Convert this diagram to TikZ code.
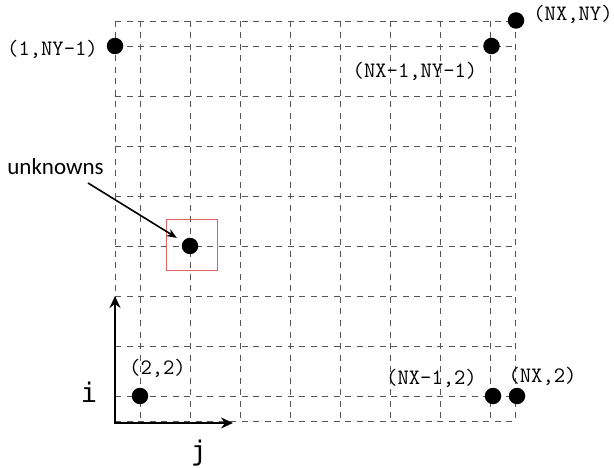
\documentclass[tikz,border=0pt]{standalone}
\usepackage{fontspec}
\newfontfamily\menlofont{DejaVu Sans Mono}
\newfontfamily\calfont{Carlito}
\usetikzlibrary{arrows.meta}
\definecolor{gridgray}{HTML}{555555}
\definecolor{boxred}{HTML}{E06464}
\tikzset{
  gridline/.style={draw=gridgray, line width=0.9pt, dash pattern=on 6pt off 5.5pt},
  dot/.style={circle, fill=black, inner sep=0pt, minimum size=16.5pt},
  coordlabel/.style={anchor=base, inner sep=0pt, font=\ttfamily\fontsize{22}{22}\selectfont},
  axislabel/.style={anchor=base, inner sep=0pt, font=\menlofont\fontsize{27}{27}\selectfont},
  axis/.style={line width=2.8pt, -{Stealth[length=12pt,width=11pt,inset=4pt]}},
  pointer/.style={line width=1.6pt, -{Stealth[length=10pt,width=8pt,inset=3pt]}, shorten >=7pt},
  redbox/.style={draw=boxred, line width=1pt},
}
\begin{document}
\begin{tikzpicture}[x=1pt,y=-1pt]
\useasboundingbox (0,0) rectangle (614,468);
% grid
\foreach \xx in {115,140,190,240,290,340,390,440,490,515}
  \draw[gridline] (\xx,21) -- (\xx,421);
\foreach \yy in {21,46,96,146,196,246,296,346,396,421}
  \draw[gridline] (115,\yy) -- (515,\yy);
% red box
\draw[redbox] (166,220) rectangle (217,271);
% dots
\node[dot] (p1) at (115,46) {};
\node[dot] (pnxny) at (516,20.5) {};
\node[dot] (pnx1ny1) at (491.5,46) {};
\node[dot] (pu) at (190,246) {};
\node[dot] (p22) at (140,396) {};
\node[dot] (pnx12) at (493,396) {};
\node[dot] (pnx2) at (517,396) {};
% labels
\node[coordlabel] (l1) at (52.5,55.5) {(1,NY-1)};
\node[coordlabel] (lnxny) at (573,21) {(NX,NY)};
\node[coordlabel] (lnx1ny1) at (415,78) {(NX-1,NY-1)};
\node[coordlabel] (l22) at (157.5,374) {(2,2)};
\node[coordlabel] (lnx12) at (431.5,384) {(NX-1,2)};
\node[coordlabel] (lnx2) at (542.5,382.5) {(NX,2)};
% unknowns
\node[anchor=base, inner sep=0pt, font=\calfont\fontsize{23}{23}\selectfont] (unk) at (55.5,175) {unknowns};
\coordinate (ustart) at (88,183);
\draw[pointer] (ustart) -- (pu);
% axes
\coordinate (origin) at (115,423);
\coordinate (itip) at (115,296);
\coordinate (jtip) at (233,423);
\draw[axis] ([yshift=1.4pt]origin) -- (itip);
\draw[axis] ([xshift=-1.4pt]origin) -- (jtip);
\node[axislabel] (li) at (89,402) {i};
\node[axislabel] (lj) at (199,460) {j};
\end{tikzpicture}
\end{document}
